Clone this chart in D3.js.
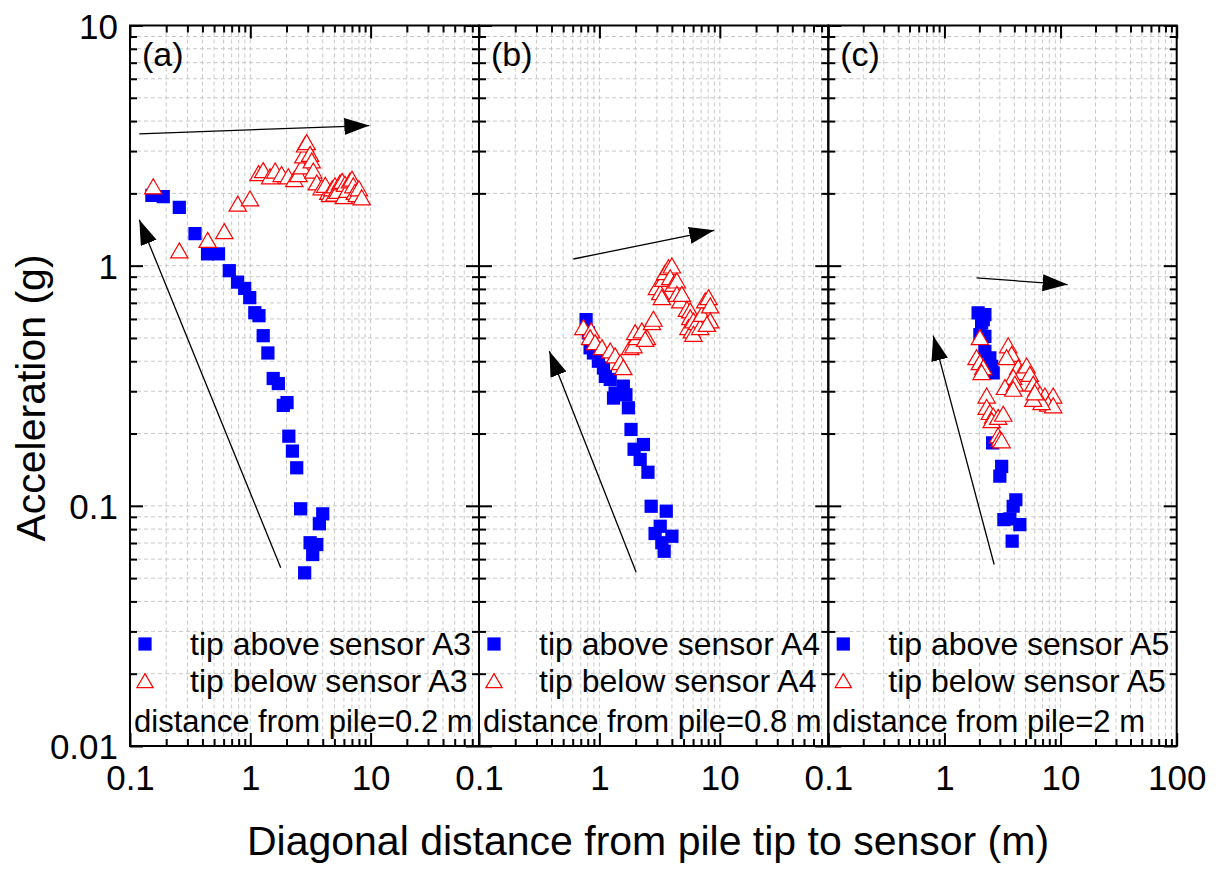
<!DOCTYPE html>
<html><head><meta charset="utf-8">
<script src="https://cdn.jsdelivr.net/npm/d3@7"></script>
<style>
html,body{margin:0;padding:0;background:#fff;}
text{font-family:"Liberation Sans",Arial,sans-serif;fill:#000;}
</style></head>
<body>
<svg id="chart" width="1219" height="871"></svg>
<script>
// ---------------- data ----------------
const panelNames = ["(a)", "(b)", "(c)"];
const sensors = ["A3", "A4", "A5"];
const pileDistance = ["0.2 m", "0.8 m", "2 m"];
const yTickLabels = ["10", "1", "0.1", "0.01"];
const yMajor = [10, 1, 0.1, 0.01];
const xMajorA = [0.1, 1, 10];
const xMajorB = [0.1, 1, 10];
const xMajorC = [0.1, 1, 10, 100];

// tip above sensor (blue squares)  [distance m, acceleration g]
const aboveA3 = [[0.152,1.96],[0.189,1.94],[0.257,1.75],[0.347,1.36],[0.441,1.12],[0.544,1.12],
  [0.669,0.953],[0.783,0.854],[0.898,0.804],[0.989,0.736],[1.09,0.637],[1.18,0.619],[1.28,0.511],
  [1.40,0.433],[1.55,0.339],[1.71,0.323],[1.88,0.262],[2.02,0.269],[2.09,0.195],[2.24,0.169],
  [2.43,0.144],[2.62,0.0972],[4.00,0.0926],[3.75,0.0842],[3.14,0.0702],[3.57,0.069],[3.30,0.0627],
  [2.83,0.0526]];
const aboveA4 = [[0.775,0.596],[0.81,0.525],[0.837,0.455],[0.892,0.433],[0.981,0.40],[1.08,0.375],
  [1.12,0.346],[1.23,0.336],[1.35,0.295],[1.31,0.281],[1.58,0.315],[1.66,0.290],[1.74,0.256],
  [1.83,0.208],[2.32,0.180],[1.94,0.172],[2.18,0.156],[2.53,0.138],[2.69,0.0996],[3.59,0.0950],
  [3.20,0.0822],[2.90,0.0767],[4.00,0.0747],[3.30,0.0702],[3.45,0.0647]];
const aboveA5 = [[1.95,0.636],[2.23,0.625],[2.16,0.596],[2.09,0.578],[2.02,0.516],[2.23,0.508],
  [2.23,0.440],[2.46,0.413],[2.55,0.381],[2.63,0.358],[2.60,0.183],[3.11,0.146],[3.00,0.133],
  [4.12,0.106],[3.91,0.0996],[3.25,0.0877],[3.66,0.0883],[4.46,0.0836],[3.83,0.0713]];

// tip below sensor (red open triangles)
const belowA3 = [[0.156,2.09],[0.257,1.13],[0.442,1.25],[0.608,1.36],[0.786,1.77],[0.994,1.86],
  [1.17,2.37],[1.28,2.44],[1.46,2.30],[1.61,2.43],[1.82,2.35],[2.07,2.30],[2.32,2.24],[2.51,2.35],
  [2.68,2.53],[2.76,2.81],[2.85,3.12],[2.94,3.19],[3.14,2.85],[3.24,2.68],[3.34,2.43],[3.57,2.17],
  [3.92,2.07],[4.45,1.98],[4.60,1.94],[4.2,2.12],[4.8,2.05],[5.06,2.11],[5.0,1.95],[5.3,2.0],
  [5.57,2.17],[5.8,2.2],[6.0,1.9],[6.13,2.14],[6.4,2.02],[6.74,2.21],[7.0,2.25],[7.18,2.11],
  [7.4,1.98],[7.67,1.94],[8.0,2.05],[8.43,1.88]];
const belowA4 = [[0.736,0.542],[0.853,0.525],[0.837,0.492],[0.921,0.469],[1.05,0.447],[1.23,0.433],
  [1.35,0.413],[1.49,0.387],[1.58,0.369],[1.80,0.447],[1.92,0.455],[2.05,0.492],[1.98,0.516],
  [2.25,0.525],[2.48,0.492],[2.40,0.484],[2.73,0.568],[2.81,0.587],[3.00,0.795],[3.20,0.757],
  [3.30,0.722],[3.40,0.860],[3.52,0.917],[3.75,0.962],[4.00,0.978],[3.87,0.874],[4.12,0.820],
  [4.40,0.847],[4.40,0.745],[4.69,0.700],[4.84,0.745],[5.33,0.645],[5.68,0.636],[5.68,0.596],
  [5.49,0.542],[5.86,0.525],[6.04,0.578],[6.45,0.568],[6.04,0.508],[6.87,0.542],[7.10,0.615],
  [7.56,0.700],[8.06,0.722],[8.32,0.667],[8.32,0.578],[7.81,0.559]];
const belowA5 = [[2.02,0.492],[1.89,0.406],[2.02,0.387],[2.16,0.369],[2.09,0.352],[2.31,0.281],
  [2.31,0.252],[2.46,0.240],[2.63,0.232],[2.55,0.222],[2.90,0.229],[3.21,0.236],[2.90,0.192],
  [3.00,0.186],[3.11,0.183],[3.54,0.455],[3.79,0.419],[3.43,0.406],[4.32,0.369],[4.62,0.352],
  [5.10,0.375],[5.44,0.346],[3.91,0.336],[3.32,0.305],[4.04,0.315],[3.91,0.300],[5.81,0.315],
  [6.21,0.300],[6.64,0.286],[7.33,0.281],[8.64,0.281],[7.82,0.260],[8.64,0.256],[6.86,0.264],
  [5.81,0.272],[6.01,0.290]];

// trend arrows [x1,y1,x2,y2] (from tail to head)
const arrowsA = [[0.1195,3.54,9.76,3.83],[1.79,0.0552,0.1195,1.554]];
const arrowsB = [[0.608,1.066,8.98,1.403],[2.02,0.0529,0.384,0.44]];
const arrowsC = [[1.89,0.889,11.5,0.834],[2.68,0.057,0.801,0.511]];

const xDomains = [[0.1,79.6],[0.1,79.6],[0.1,100]];

// ---------------- layout ----------------
const svg = d3.select("#chart");
svg.append("rect").attr("width",1219).attr("height",871).attr("fill","#fff");
const yTop = 25.5, yBottom = 746;
const lefts = [130, 479, 828.3], rights = [479, 828.3, 1176.7];
const y = d3.scaleLog().domain([0.01,10]).range([yBottom, yTop]);

const defs = svg.append("defs");
defs.append("marker").attr("id","ah").attr("markerUnits","userSpaceOnUse")
  .attr("markerWidth",30).attr("markerHeight",20).attr("refX",25).attr("refY",8.5)
  .attr("orient","auto")
  .append("path").attr("d","M0,0 L25,8.5 L0,17 Z").attr("fill","#000");

const panels = [
  {above: aboveA3, below: belowA3, arrows: arrowsA, major: xMajorA},
  {above: aboveA4, below: belowA4, arrows: arrowsB, major: xMajorB},
  {above: aboveA5, below: belowA5, arrows: arrowsC, major: xMajorC}
];

const sq = d3.symbol().type(d3.symbolSquare).size(175);
const tri = d3.symbol().type(d3.symbolTriangle).size(130);
const triLeg = d3.symbol().type(d3.symbolTriangle).size(115);

panels.forEach((p, i) => {
  const x = d3.scaleLog().domain(xDomains[i]).range([lefts[i], rights[i]]);
  const g = svg.append("g");
  const clipId = "clip" + i;
  defs.append("clipPath").attr("id", clipId).append("rect")
    .attr("x", lefts[i]).attr("y", yTop).attr("width", rights[i]-lefts[i]).attr("height", yBottom-yTop);

  // grid
  const xt = x.ticks().filter(v => x(v) > lefts[i]+1 && x(v) < rights[i]-1);
  const yt = y.ticks().filter(v => y(v) > yTop+1 && y(v) < yBottom-1);
  const grid = g.append("g").attr("stroke","#c8c8c8").attr("stroke-width",1).attr("stroke-dasharray","4,3");
  grid.selectAll("line.vx").data(xt).enter().append("line")
    .attr("x1", d=>x(d)).attr("x2", d=>x(d)).attr("y1", yTop).attr("y2", yBottom);
  grid.selectAll("line.hy").data(yt).enter().append("line")
    .attr("x1", lefts[i]).attr("x2", rights[i]).attr("y1", d=>y(d)).attr("y2", d=>y(d));

  // data
  const dg = g.append("g").attr("clip-path", `url(#${clipId})`);
  dg.selectAll("path.sq").data(p.above).enter().append("path")
    .attr("d", sq).attr("transform", d=>`translate(${x(d[0])},${y(d[1])})`).attr("fill","#0000ff");
  dg.selectAll("path.tr").data(p.below).enter().append("path")
    .attr("d", tri).attr("transform", d=>`translate(${x(d[0])},${y(d[1])})`)
    .attr("fill","#fff").attr("stroke","#ff0000").attr("stroke-width",1.2);

  // arrows
  g.selectAll("line.arr").data(p.arrows).enter().append("line")
    .attr("x1", d=>x(d[0])).attr("y1", d=>y(d[1])).attr("x2", d=>x(d[2])).attr("y2", d=>y(d[3]))
    .attr("stroke","#000").attr("stroke-width",1.3).attr("marker-end","url(#ah)");

  // axes ticks (inward)
  const minorX = x.ticks().filter(v => !p.major.includes(v));
  const minorY = y.ticks().filter(v => !yMajor.some(m => Math.abs(m-v) < 1e-9));
  const ax = (axis, tr) => {
    const a = g.append("g").attr("transform", tr).call(axis);
    a.select(".domain").remove();
    a.selectAll("text").remove();
    a.selectAll("line").attr("stroke","#000").attr("stroke-width",2);
  };
  const majIn = p.major.filter(v => v >= xDomains[i][0] && v <= xDomains[i][1]);
  ax(d3.axisBottom(x).tickValues(majIn).tickSize(13), `translate(0,${yTop})`);
  ax(d3.axisBottom(x).tickValues(minorX).tickSize(7), `translate(0,${yTop})`);
  ax(d3.axisTop(x).tickValues(majIn).tickSize(13), `translate(0,${yBottom})`);
  ax(d3.axisTop(x).tickValues(minorX).tickSize(7), `translate(0,${yBottom})`);
  ax(d3.axisRight(y).tickValues(yMajor).tickSize(13), `translate(${lefts[i]},0)`);
  ax(d3.axisRight(y).tickValues(minorY).tickSize(7), `translate(${lefts[i]},0)`);
  ax(d3.axisLeft(y).tickValues(yMajor).tickSize(13), `translate(${rights[i]},0)`);
  ax(d3.axisLeft(y).tickValues(minorY).tickSize(7), `translate(${rights[i]},0)`);

  // frame
  g.append("rect").attr("x", lefts[i]).attr("y", yTop).attr("width", rights[i]-lefts[i])
    .attr("height", yBottom-yTop).attr("fill","none").attr("stroke","#000").attr("stroke-width",2);

  // x tick labels
  const lab = g.append("g").attr("transform", `translate(0,${yBottom})`)
    .call(d3.axisBottom(x).tickValues(majIn).tickSize(0).tickPadding(0).tickFormat(d3.format("~g")));
  lab.select(".domain").remove();
  lab.selectAll("text").attr("dy", null).attr("y", 44).attr("font-size", 35)
    .style("font-family", '"Liberation Sans", Arial, sans-serif');

  // panel label
  g.append("text").attr("x", lefts[i]+12).attr("y", 66).attr("font-size", 34).text(panelNames[i]);

  // legend
  const lx = lefts[i];
  g.append("path").attr("d", sq).attr("transform", `translate(${lx+15},${644})`).attr("fill","#0000ff");
  g.append("path").attr("d", triLeg).attr("transform", `translate(${lx+15},${683})`)
    .attr("fill","#fff").attr("stroke","#ff0000").attr("stroke-width",1.2);
  g.append("text").attr("x", lx+60).attr("y", 655).attr("font-size", 32).text(`tip above sensor ${sensors[i]}`);
  g.append("text").attr("x", lx+60).attr("y", 692).attr("font-size", 32).text(`tip below sensor ${sensors[i]}`);
  g.append("text").attr("x", lx+4).attr("y", 731.5).attr("font-size", 31).text(`distance from pile=${pileDistance[i]}`);
});

// y tick labels
const yl = svg.append("g").attr("transform", `translate(118,0)`)
  .call(d3.axisLeft(y).tickValues(yMajor).tickSize(0).tickPadding(0).tickFormat((d,i)=>yTickLabels[i]));
yl.select(".domain").remove();
yl.selectAll("text").attr("font-size", 35).attr("dy","0.36em")
  .style("font-family", '"Liberation Sans", Arial, sans-serif');

// axis titles
svg.append("text").attr("transform","translate(45,398) rotate(-90)").attr("text-anchor","middle")
  .attr("font-size", 41).text("Acceleration (g)");
svg.append("text").attr("x", 648).attr("y", 855).attr("text-anchor","middle")
  .attr("font-size", 41).text("Diagonal distance from pile tip to sensor (m)");
</script>
</body></html>
